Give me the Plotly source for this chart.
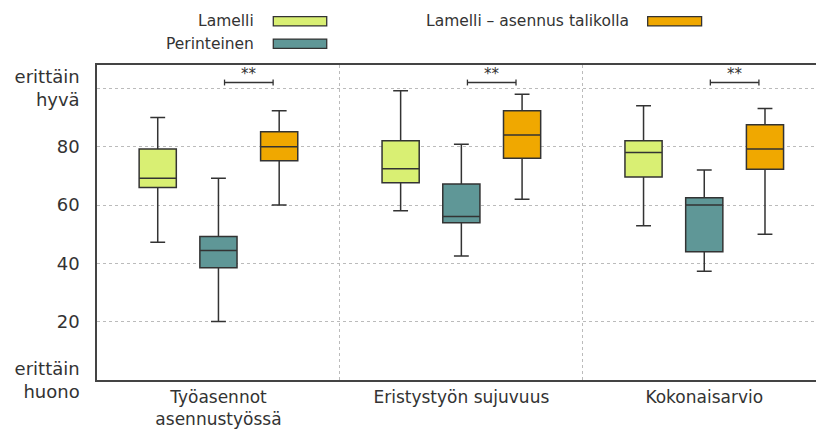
import plotly.graph_objects as go

# Categories on the x axis and the summary statistics of each box
categories = ["Työasennot<br>asennustyössä", "Eristystyön sujuvuus", "Kokonaisarvio"]
y_tick_values = [0, 20, 40, 60, 80, 100]
y_tick_labels = ["erittäin<br>huono", "20", "40", "60", "80", "erittäin<br>hyvä"]

series_names = ["Lamelli", "Perinteinen", "Lamelli – asennus talikolla"]

lamelli_low = [47.2, 58.0, 52.9]
lamelli_q1 = [66.0, 67.6, 69.6]
lamelli_median = [69.2, 72.4, 78.0]
lamelli_q3 = [79.2, 82.0, 82.0]
lamelli_high = [90.0, 99.2, 94.0]

perinteinen_low = [20.1, 42.5, 37.3]
perinteinen_q1 = [38.5, 53.9, 44.0]
perinteinen_median = [44.4, 56.1, 60.0]
perinteinen_q3 = [49.2, 67.2, 62.5]
perinteinen_high = [69.2, 80.8, 72.0]

talikolla_low = [60.0, 62.0, 50.0]
talikolla_q1 = [75.2, 76.0, 72.3]
talikolla_median = [80.0, 84.0, 79.2]
talikolla_q3 = [85.1, 92.3, 87.5]
talikolla_high = [92.3, 98.0, 93.1]

# Significance of Perinteinen vs. talikolla in each category
significance = ["**", "**", "**"]

# Styling
FONT = "DejaVu Sans"
TEXT = "#333333"
EDGE = "#333333"
colors = ["#d9ef73", "#5f9797", "#f0a800"]
offsets = [-0.25, 0.0, 0.25]
BOX_WIDTH = 0.153
BRACKET_Y = 102
BRACKET_TICK = 1.0

stats = [
    (lamelli_low, lamelli_q1, lamelli_median, lamelli_q3, lamelli_high),
    (perinteinen_low, perinteinen_q1, perinteinen_median, perinteinen_q3, perinteinen_high),
    (talikolla_low, talikolla_q1, talikolla_median, talikolla_q3, talikolla_high),
]

positions = list(range(1, len(categories) + 1))

fig = go.Figure()

for name, color, off, (lo, q1, med, q3, hi) in zip(series_names, colors, offsets, stats):
    fig.add_trace(go.Box(
        name=name,
        x=[p + off for p in positions],
        lowerfence=lo, q1=q1, median=med, q3=q3, upperfence=hi,
        width=BOX_WIDTH,
        whiskerwidth=0.4,
        fillcolor=color,
        line=dict(color=EDGE, width=1.5),
        boxpoints=False,
        showlegend=False,
        hoverinfo="skip",
    ))

# Significance brackets between Perinteinen and talikolla
bx, by = [], []
for p in positions:
    x0, x1 = p + 0.025, p + 0.225
    bx += [x0, x0, None, x0, x1, None, x1, x1, None]
    by += [BRACKET_Y - BRACKET_TICK, BRACKET_Y + BRACKET_TICK, None,
           BRACKET_Y, BRACKET_Y, None,
           BRACKET_Y - BRACKET_TICK, BRACKET_Y + BRACKET_TICK, None]
fig.add_trace(go.Scatter(x=bx, y=by, mode="lines", line=dict(color=EDGE, width=1.3),
                         showlegend=False, hoverinfo="skip"))

annotations = []
for p, s in zip(positions, significance):
    annotations.append(dict(x=p + 0.125, y=BRACKET_Y, xref="x", yref="y", text=s,
                            showarrow=False, yanchor="bottom", yshift=-2,
                            font=dict(family=FONT, size=15, color=TEXT)))

# Legend drawn as text to the left of each swatch
legend_rows = [
    (series_names[0], colors[0], 0.2211, 0.2452, 0.3195, 1.1387),
    (series_names[1], colors[1], 0.2211, 0.2452, 0.3195, 1.0676),
    (series_names[2], colors[2], 0.7422, 0.7659, 0.8409, 1.1387),
]
shapes = []
for name, color, tx, sx0, sx1, yc in legend_rows:
    annotations.append(dict(x=tx, y=yc, xref="paper", yref="paper", text=name,
                            showarrow=False, xanchor="right", yanchor="middle",
                            font=dict(family=FONT, size=15.5, color=TEXT)))
    shapes.append(dict(type="rect", xref="paper", yref="paper",
                       x0=sx0, x1=sx1, y0=yc - 0.0148, y1=yc + 0.0148,
                       fillcolor=color, line=dict(color=EDGE, width=1.3)))

fig.update_layout(
    width=816, height=432,
    margin=dict(l=97, r=0, t=65, b=52),
    paper_bgcolor="white", plot_bgcolor="white",
    boxmode="overlay",
    font=dict(family=FONT, size=18, color=TEXT),
    annotations=annotations,
    shapes=shapes,
    showlegend=False,
)

fig.update_xaxes(
    range=[0.5, 3.46],
    automargin=False,
    tickmode="array", tickvals=positions, ticktext=categories,
    showgrid=False, zeroline=False,
    showline=True, linecolor="#444444", linewidth=1.5, mirror=True,
    ticks="", ticklabelstandoff=1,
    tickfont=dict(family=FONT, size=17, color=TEXT),
    minor=dict(tickmode="array", tickvals=[1.5, 2.5], showgrid=True,
               gridcolor="#bbbbbb", griddash="dot", gridwidth=1,
               ticks="inside", ticklen=3, tickcolor="#bbbbbb"),
)

fig.update_yaxes(
    range=[0, 108],
    automargin=False,
    tickmode="array", tickvals=y_tick_values, ticktext=y_tick_labels,
    showgrid=True, gridcolor="#bbbbbb", griddash="dot", gridwidth=1,
    zeroline=False,
    showline=True, linecolor="#444444", linewidth=1.5, mirror=False,
    ticks="", ticklabelstandoff=12,
    tickfont=dict(family=FONT, size=18, color=TEXT),
)

fig.write_html("out.html")
